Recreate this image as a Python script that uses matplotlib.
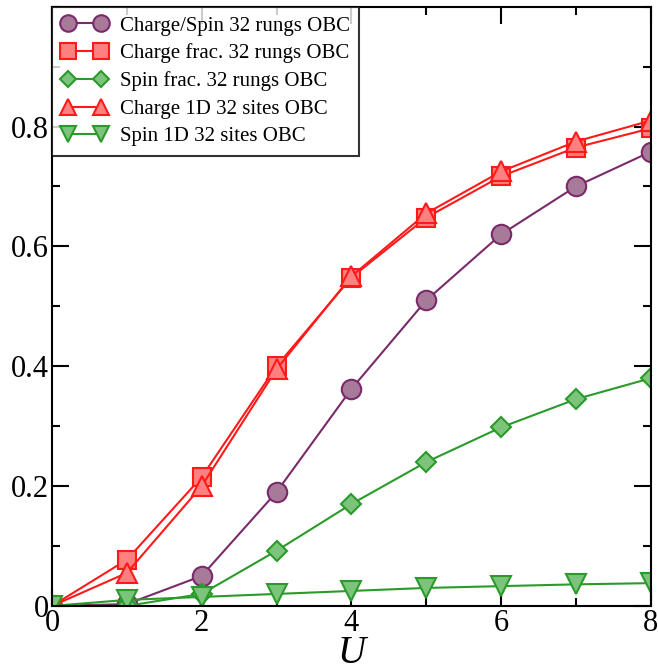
import numpy as np
import matplotlib.pyplot as plt
from matplotlib.ticker import MultipleLocator

plt.rcParams['font.family'] = ['Liberation Serif', 'DejaVu Serif']

U = [0, 1, 2, 3, 4, 5, 6, 7, 8]
charge_spin_rungs = [0.0, 0.003, 0.05, 0.19, 0.362, 0.51, 0.62, 0.70, 0.758]
charge_frac_rungs = [0.0, 0.077, 0.215, 0.40, 0.548, 0.648, 0.717, 0.765, 0.797]
spin_frac_rungs = [0.0, 0.0, 0.02, 0.092, 0.17, 0.24, 0.298, 0.345, 0.38]
charge_1d = [0.0, 0.055, 0.20, 0.395, 0.55, 0.655, 0.725, 0.775, 0.81]
spin_1d = [0.0, 0.01, 0.015, 0.02, 0.025, 0.03, 0.033, 0.036, 0.038]

fig = plt.figure(figsize=(6.58, 6.71), dpi=100)
ax = fig.add_axes([0.079, 0.097, 0.910, 0.893])

purple = "#7a2a6a"
red = "#ff1a1a"
green = "#2a9a2a"

ax.plot(U, charge_spin_rungs, color=purple, lw=1.5, marker="o", ms=14,
        mfc="#a77a9a", mec=purple, mew=1.5, label="Charge/Spin 32 rungs OBC")
ax.plot(U, charge_frac_rungs, color=red, lw=1.5, marker="s", ms=13,
        mfc="#ff8080", mec=red, mew=1.5, label="Charge frac. 32 rungs OBC")
ax.plot(U, spin_frac_rungs, color=green, lw=1.5, marker="D", ms=10,
        mfc="#7cc47c", mec=green, mew=1.5, label="Spin frac. 32 rungs OBC")
ax.plot(U, charge_1d, color=red, lw=1.5, marker="^", ms=14,
        mfc="#ff8080", mec=red, mew=1.5, label="Charge 1D 32 sites OBC")
ax.plot(U, spin_1d, color=green, lw=1.5, marker="v", ms=14,
        mfc="#7cc47c", mec=green, mew=1.5, label="Spin 1D 32 sites OBC")

ax.set_xlim(0, 8)
ax.set_ylim(0, 1.0)
ax.xaxis.set_major_locator(MultipleLocator(2))
ax.xaxis.set_minor_locator(MultipleLocator(1))
ax.yaxis.set_minor_locator(MultipleLocator(0.1))
ax.set_yticks([0, 0.2, 0.4, 0.6, 0.8])
ax.set_yticklabels(["0", "0.2", "0.4", "0.6", "0.8"])
ax.tick_params(which="both", direction="in", top=True, right=True, width=1.5)
ax.tick_params(which="major", length=12, labelsize=22, pad=2)
ax.tick_params(which="minor", length=6)
for s in ax.spines.values():
    s.set_linewidth(1.5)

ax.set_xlabel("U", fontsize=28, style="italic", labelpad=-2)

leg = ax.legend(loc="upper left", fontsize=15, frameon=True, fancybox=False,
                edgecolor="black", borderaxespad=0, numpoints=2,
                markerscale=0.85, handlelength=2.2, labelspacing=0.38,
                borderpad=0.45, handletextpad=0.6)
leg.get_frame().set_linewidth(1.5)

fig.savefig("out.png", dpi=100)
